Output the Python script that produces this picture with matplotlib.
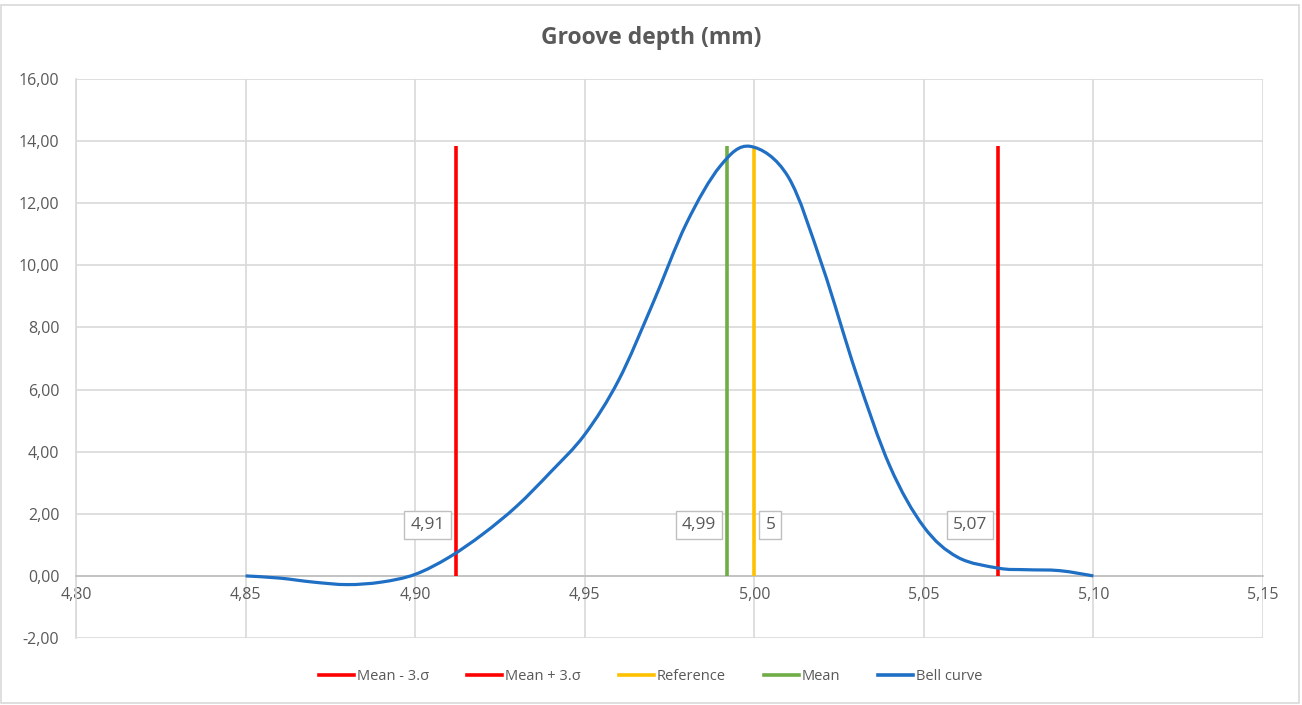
import numpy as np
import matplotlib
matplotlib.use("Agg")
import matplotlib.pyplot as plt
from matplotlib.path import Path
from matplotlib.patches import PathPatch, Rectangle
from matplotlib.lines import Line2D
from matplotlib.ticker import FuncFormatter, MultipleLocator

plt.rcParams['font.family'] = ['Open Sans', 'DejaVu Sans']

# bell curve
curve_x = [4.85, 4.86, 4.87, 4.88, 4.89, 4.90, 4.91, 4.92, 4.93, 4.94, 4.95,
           4.96, 4.97, 4.98, 4.99, 4.9988, 5.01, 5.02, 5.03, 5.04, 5.05,
           5.06, 5.072, 5.08, 5.09, 5.10]
curve_y = [0.0, -0.07, -0.2, -0.28, -0.2, 0.05, 0.6, 1.35, 2.25, 3.35, 4.55,
           6.3, 8.75, 11.35, 13.2, 13.83, 12.85, 10.0, 6.54, 3.53, 1.58,
           0.6, 0.25, 0.2, 0.17, 0.0]

line_top = 13.85
mean_minus = 4.912
mean_plus = 5.072
reference = 5.0
mean = 4.992

labels = ["Mean - 3.σ", "Mean + 3.σ", "Reference", "Mean", "Bell curve"]
colors = ["#FF0000", "#FF0000", "#FFC000", "#70AD47", "#1F6FC4"]
callouts = ["4,91", "5,07", "5", "4,99"]
callout_y = 1.64

grid_c = "#D9D9D9"
text_c = "#595959"


def smooth_path(xs, ys):
    # Excel-like smoothing: Catmull-Rom segments as cubic Beziers
    pts = np.column_stack([xs, ys])
    n = len(pts)
    verts = [pts[0]]
    codes = [Path.MOVETO]
    for i in range(n - 1):
        p0 = pts[max(i - 1, 0)]
        p1 = pts[i]
        p2 = pts[i + 1]
        p3 = pts[min(i + 2, n - 1)]
        c1 = p1 + (p2 - p0) / 6.0
        c2 = p2 - (p3 - p1) / 6.0
        verts += [c1, c2, p2]
        codes += [Path.CURVE4] * 3
    return Path(verts, codes)


fig = plt.figure(figsize=(13.02, 7.05), dpi=100)
ax = fig.add_axes([0.0584, 0.095, 0.9116, 0.793])

ax.set_xlim(4.80, 5.15)
ax.set_ylim(-2, 16)
ax.xaxis.set_major_locator(MultipleLocator(0.05))
ax.yaxis.set_major_locator(MultipleLocator(2))
fmt = FuncFormatter(lambda v, p: f"{v:.2f}".replace('.', ','))
ax.xaxis.set_major_formatter(fmt)
ax.yaxis.set_major_formatter(fmt)
ax.grid(True, color=grid_c, linewidth=1.2)
ax.set_axisbelow(True)
ax.tick_params(length=0, colors=text_c, labelsize=11.5)
ax.tick_params(axis='y', pad=12)
ax.tick_params(axis='x', pad=8)

for s in ['top', 'right']:
    ax.spines[s].set_visible(False)
ax.spines['left'].set_color(grid_c)
ax.spines['left'].set_linewidth(1.2)
ax.spines['bottom'].set_position(('data', 0))
ax.spines['bottom'].set_color("#BFBFBF")
ax.spines['bottom'].set_linewidth(1.2)

# vertical marker lines
vx = [mean_minus, mean_plus, reference, mean]
for x, c in zip(vx, colors[:4]):
    ax.plot([x, x], [0, line_top], color=c, linewidth=2.6, solid_capstyle='butt', zorder=3)

# bell curve
patch = PathPatch(smooth_path(curve_x, curve_y), facecolor='none',
                  edgecolor=colors[4], linewidth=2.3, zorder=4)
ax.add_patch(patch)

# callout labels
box = dict(boxstyle='square,pad=0.35', facecolor='white', edgecolor='#BFBFBF', linewidth=1)
sides = [-1, -1, 1, -1]
for x, txt, s in zip(vx, callouts, sides):
    ax.annotate(txt, xy=(x, callout_y), xytext=(s * 8, 0), textcoords='offset points',
                ha='left' if s > 0 else 'right', va='center', fontsize=12.5,
                color=text_c, bbox=box, zorder=5)

fig.text(0.5, 0.946, "Groove depth (mm)", ha='center', va='center',
         fontsize=16.5, fontweight='bold', color=text_c)

handles = [Line2D([0], [0], color=c, linewidth=2.6) for c in colors]
fig.legend(handles, labels, loc='center', bbox_to_anchor=(0.5, 0.04), ncol=5,
           frameon=False, fontsize=10.5, labelcolor=text_c, handlelength=2.4,
           handletextpad=0.2, columnspacing=2.6)

fig.patches.append(Rectangle((0.001, 0.003), 0.997, 0.99, transform=fig.transFigure,
                             fill=False, edgecolor=grid_c, linewidth=1.2))

fig.savefig("out.png", dpi=100)
